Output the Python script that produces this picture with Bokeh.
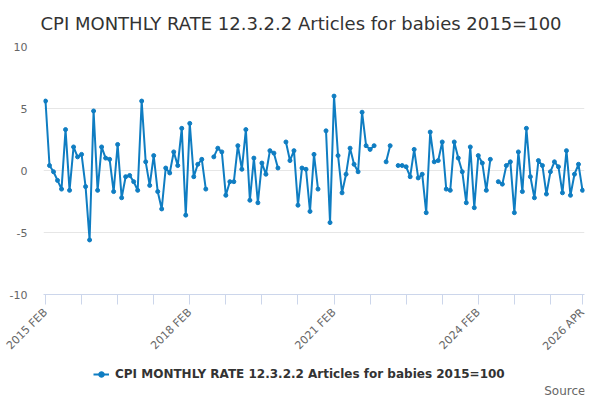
import math
from bokeh.plotting import figure
from bokeh.layouts import column
from bokeh.models import (FixedTicker, Legend, LegendItem, ColumnDataSource, Range1d, Title, Label)
from bokeh.embed import file_html
from bokeh.resources import INLINE

TITLE = "CPI MONTHLY RATE 12.3.2.2 Articles for babies 2015=100"
SERIES_NAME = "CPI MONTHLY RATE 12.3.2.2 Articles for babies 2015=100"
SOURCE_TEXT = "Source:"

N_MONTHS = 135  # 2015 FEB .. 2026 APR
tick_positions = [0, 9, 18, 27, 36, 45, 54, 63, 72, 81, 90, 99, 108, 117, 126, 134]
tick_labels = {0: "2015 FEB", 36: "2018 FEB", 72: "2021 FEB", 108: "2024 FEB", 134: "2026 APR"}
y_ticks = [-10, -5, 0, 5, 10]

nan = float("nan")
values = [
    5.6, 0.4, -0.1, -0.8, -1.5, 3.3, -1.6, 1.9, 1.1, 1.3,
    -1.3, -5.6, 4.8, -1.6, 1.9, 1.0, 0.9, -1.7, 2.1, -2.2,
    -0.5, -0.4, -0.9, -1.6, 5.6, 0.7, -1.2, 1.2, -1.7, -3.1,
    0.2, -0.2, 1.5, 0.4, 3.4, -3.6, 3.8, -0.5, 0.5, 0.9,
    -1.5, nan, 1.1, 1.8, 1.5, -2.0, -0.9, -0.9, 2.0, 0.1,
    3.3, -2.4, 1.0, -2.6, 0.6, -0.3, 1.6, 1.4, 0.2, nan,
    2.3, 0.8, 1.6, -2.8, 0.2, 0.1, -3.3, 1.3, -1.5, nan,
    3.2, -4.2, 6.0, 1.2, -1.8, -0.3, 1.8, 0.5, -0.1, 4.7,
    2.0, 1.7, 2.0, nan, nan, 0.7, 2.0, nan, 0.4, 0.4,
    0.3, -0.5, 1.7, -0.6, -0.3, -3.4, 3.1, 0.7, 0.8, 2.3,
    -1.5, -1.6, 2.3, 1.0, -0.1, -2.6, 1.9, -3.0, 1.2, 0.6,
    -1.6, 0.9, nan, -0.9, -1.1, 0.4, 0.7, -3.4, 1.5, -1.7,
    3.4, -0.5, -2.2, 0.8, 0.4, -1.9, -0.1, 0.7, 0.3, -1.8,
    1.6, -2.0, -0.3, 0.5, -1.6,
]
months = list(range(N_MONTHS))

FONT = "DejaVu Sans"
LINE_COLOR = "#0f7dc2"

src = ColumnDataSource(data=dict(x=months, y=values))

# ---- main chart ----
p = figure(frame_width=541, frame_height=248,
           min_border_left=43, min_border_right=16, min_border_top=46, min_border_bottom=66,
           output_backend="svg", toolbar_location=None,
           x_range=Range1d(-0.5, N_MONTHS - 0.5), y_range=Range1d(-10, 10))
p.outline_line_color = None
p.background_fill_color = "white"
p.border_fill_color = "white"

p.title = Title(text=TITLE, align="left", offset=-3, vertical_align="top", standoff=22,
                text_font=FONT, text_font_size="18px", text_font_style="normal",
                text_color="#333333")

p.line("x", "y", source=src, line_color=LINE_COLOR, line_width=2)
p.scatter("x", "y", source=src, size=4, fill_color=LINE_COLOR, line_color=LINE_COLOR)

xa = p.xaxis[0]
xa.ticker = FixedTicker(ticks=tick_positions)
xa.major_label_overrides = {t: tick_labels.get(t, "") for t in tick_positions}
xa.major_label_orientation = math.pi / 4
xa.axis_line_color = "#ccd6eb"
xa.major_tick_line_color = "#ccd6eb"
xa.major_tick_out = 10
xa.major_tick_in = 0
xa.minor_tick_line_color = None
xa.minor_tick_out = 0
xa.major_label_text_font = FONT
xa.major_label_text_font_size = "11px"
xa.major_label_text_color = "#666666"
xa.major_label_standoff = 6
xa.axis_label_standoff = 0

ya = p.yaxis[0]
ya.ticker = FixedTicker(ticks=y_ticks)
ya.major_label_overrides = {t: str(t) for t in y_ticks}
ya.axis_line_color = None
ya.major_tick_line_color = None
ya.major_tick_out = 0
ya.major_tick_in = 0
ya.minor_tick_line_color = None
ya.major_label_text_font = FONT
ya.major_label_text_font_size = "11px"
ya.major_label_text_color = "#666666"
ya.major_label_standoff = 16

p.xgrid.grid_line_color = None
p.ygrid.grid_line_color = "#e6e6e6"
p.ygrid.ticker = FixedTicker(ticks=y_ticks)

# ---- legend / source strip (its frame is aligned with the chart frame) ----
leg = figure(width=600, height=40, min_border=0,
             min_border_left=0, min_border_right=0, min_border_top=0, min_border_bottom=0,
             output_backend="svg", toolbar_location=None,
             x_axis_type=None, y_axis_type=None,
             x_range=Range1d(0, 1), y_range=Range1d(0, 1))
leg.outline_line_color = None
leg.background_fill_color = "white"
leg.border_fill_color = "white"
leg.xgrid.visible = False
leg.ygrid.visible = False

# renderers only used as legend swatches (a single NaN point draws nothing)
swatch = ColumnDataSource(data=dict(x=[nan], y=[nan]))
lr = leg.line("x", "y", source=swatch, line_color=LINE_COLOR, line_width=2)
sr = leg.scatter("x", "y", source=swatch, size=4, fill_color=LINE_COLOR, line_color=LINE_COLOR)

legend = Legend(items=[LegendItem(label=SERIES_NAME, renderers=[lr, sr])],
                location=(50, 19), orientation="horizontal",
                padding=0, margin=0, spacing=0, glyph_width=16, glyph_height=14,
                label_height=14, label_standoff=6,
                label_text_font=FONT, label_text_font_size="12px",
                label_text_font_style="bold", label_text_color="#333333",
                border_line_color=None, background_fill_alpha=0)
leg.add_layout(legend)

leg.add_layout(Label(x=546, y=10, x_units="screen", y_units="screen", text=SOURCE_TEXT,
                     text_font=FONT, text_font_size="12px", text_color="#666666",
                     text_align="right", text_baseline="middle"))

layout = column(p, leg, spacing=0)
open("out.html", "w").write(file_html(layout, INLINE))
